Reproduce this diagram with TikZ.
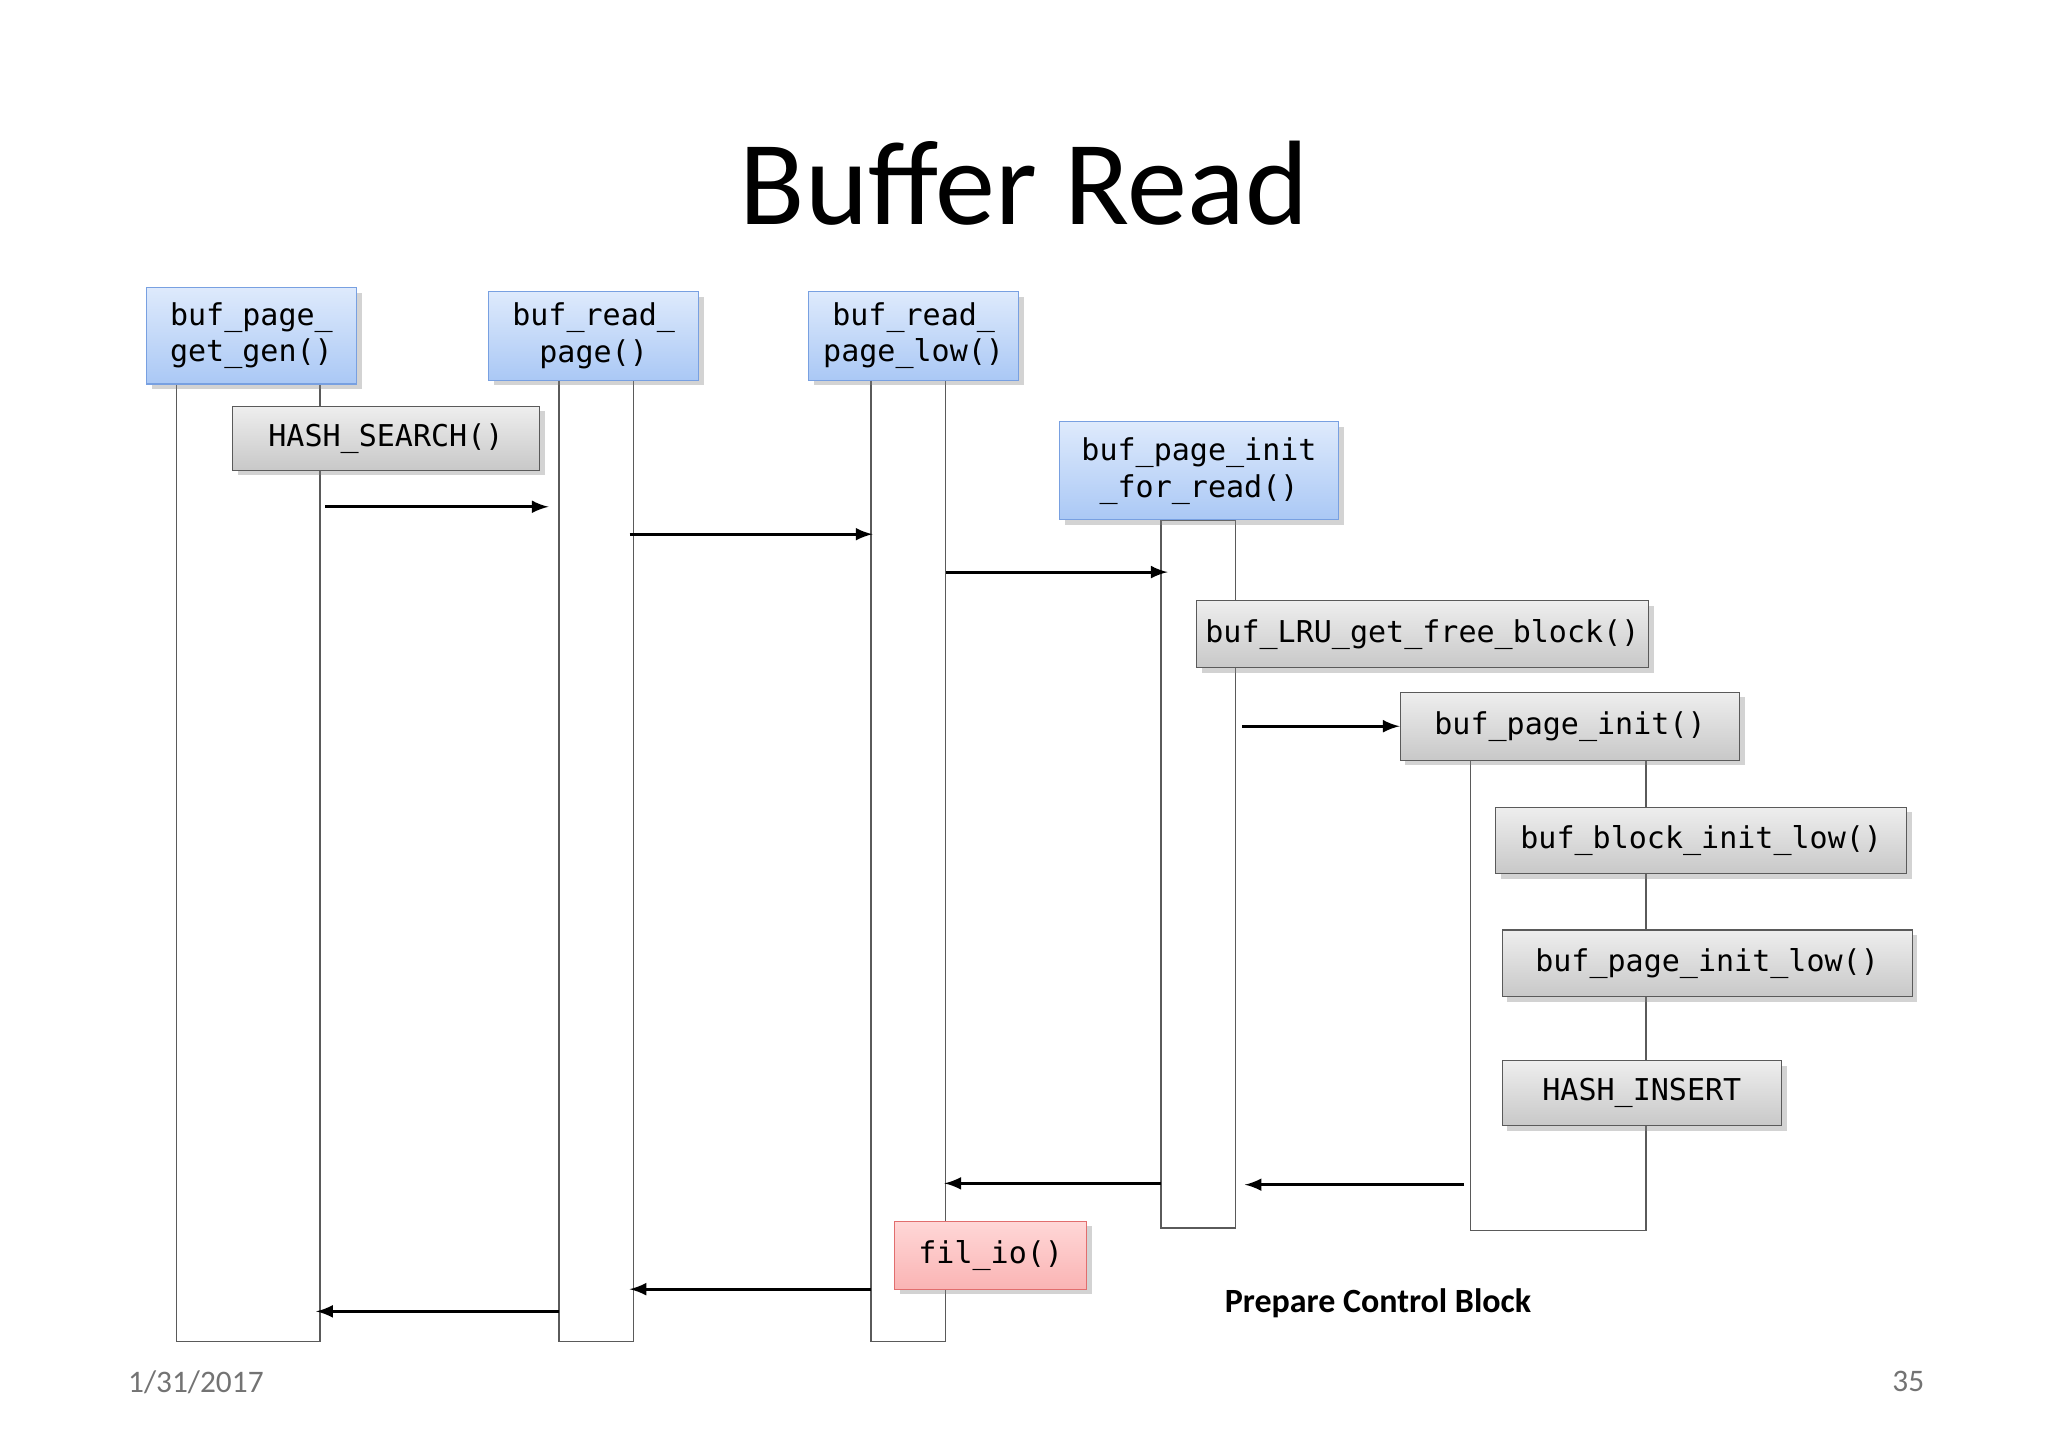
\documentclass[tikz,border=0pt]{standalone}
\usepackage{fontspec}
\setmainfont{Carlito}
\newfontfamily\mono{DejaVu Sans Mono}
\usetikzlibrary{shadows}
\definecolor{bluetop}{RGB}{222,234,252}
\definecolor{bluebot}{RGB}{170,200,245}
\definecolor{blueline}{RGB}{120,160,225}
\definecolor{graytop}{RGB}{238,238,238}
\definecolor{graybot}{RGB}{200,200,200}
\definecolor{grayline}{RGB}{90,90,90}
\definecolor{redtop}{RGB}{255,215,215}
\definecolor{redbot}{RGB}{250,180,180}
\definecolor{redline}{RGB}{225,110,110}
\begin{document}
\begin{tikzpicture}[x=0.5pt,y=-0.5pt,
  life/.style={draw=grayline,fill=white,line width=0.6pt},
  fbox/.style={font=\mono\fontsize{11.5}{14}\selectfont,align=center,inner sep=0pt,drop shadow={opacity=0.35,shadow xshift=2pt,shadow yshift=-2pt}},
  bluebox/.style={fbox,draw=blueline,top color=bluetop,bottom color=bluebot},
  graybox/.style={fbox,draw=grayline,top color=graytop,bottom color=graybot},
  redbox/.style={fbox,draw=redline,top color=redtop,bottom color=redbot},
  arr/.style={-latex,line width=1.2pt}]
\useasboundingbox (0,0) rectangle (1568,1110);
% lifelines
\draw[life] (135,290) rectangle (245,1027);
\draw[life] (428,290) rectangle (485,1027);
\draw[life] (667,290) rectangle (724,1027);
\draw[life] (889,398) rectangle (946,940);
\draw[life] (1126,582) rectangle (1260,942);
% title
\node[font=\fontsize{46}{50}\selectfont] (title) at (784,140) {Buffer Read};
% boxes
\newcommand{\bx}[7]{\node[#1,minimum width={(#4-#2)*0.5pt},minimum height={(#5-#3)*0.5pt}] (#6) at ({(#2+#4)/2},{(#3+#5)/2}) {#7};}
\bx{bluebox}{112}{220}{273}{294}{b1}{buf\_page\_\\get\_gen()}
\bx{bluebox}{374}{223}{535}{291}{b2}{buf\_read\_\\page()}
\bx{bluebox}{619}{223}{780}{291}{b3}{buf\_read\_\\page\_low()}
\bx{bluebox}{811}{323}{1025}{398}{b4}{buf\_page\_init\\\_for\_read()}
\bx{graybox}{178}{311}{413}{360}{g1}{HASH\_SEARCH()}
\bx{graybox}{916}{460}{1262}{511}{g2}{buf\_LRU\_get\_free\_block()}
\bx{graybox}{1072}{530}{1332}{582}{g3}{buf\_page\_init()}
\bx{graybox}{1145}{618}{1460}{669}{g4}{buf\_block\_init\_low()}
\bx{graybox}{1150}{712}{1464}{763}{g5}{buf\_page\_init\_low()}
\bx{graybox}{1150}{812}{1364}{862}{g6}{HASH\_INSERT}
\bx{redbox}{685}{935}{832}{987}{r1}{fil\_io()}
% arrows
\coordinate (a1s) at (249,388); \coordinate (a1e) at (420,388);
\coordinate (a2s) at (482,409); \coordinate (a2e) at (668,409);
\coordinate (a3s) at (724,438); \coordinate (a3e) at (894,438);
\coordinate (a4s) at (951,556);
\coordinate (a5s) at (1121,907); \coordinate (a5e) at (953,907);
\coordinate (a6s) at (889,906); \coordinate (a6e) at (723,906);
\coordinate (a7s) at (667,987); \coordinate (a7e) at (482,987);
\coordinate (a8s) at (428,1004); \coordinate (a8e) at (242,1004);
\draw[arr] (a1s) -- (a1e);
\draw[arr] (a2s) -- (a2e);
\draw[arr] (a3s) -- (a3e);
\draw[arr] (a4s) -- (g3.west);
\draw[arr] (a5s) -- (a5e);
\draw[arr] (a6s) -- (a6e);
\draw[arr] (a7s) -- (a7e);
\draw[arr] (a8s) -- (a8e);
% labels
\node[font=\bfseries\fontsize{13}{15}\selectfont] (lbl) at (1055,998) {Prepare Control Block};
\node[font=\fontsize{12}{14}\selectfont,text=black!55] (date) at (150,1058) {1/31/2017};
\node[font=\fontsize{12}{14}\selectfont,text=black!55] (pg) at (1461,1058) {35};
\end{tikzpicture}
\end{document}
